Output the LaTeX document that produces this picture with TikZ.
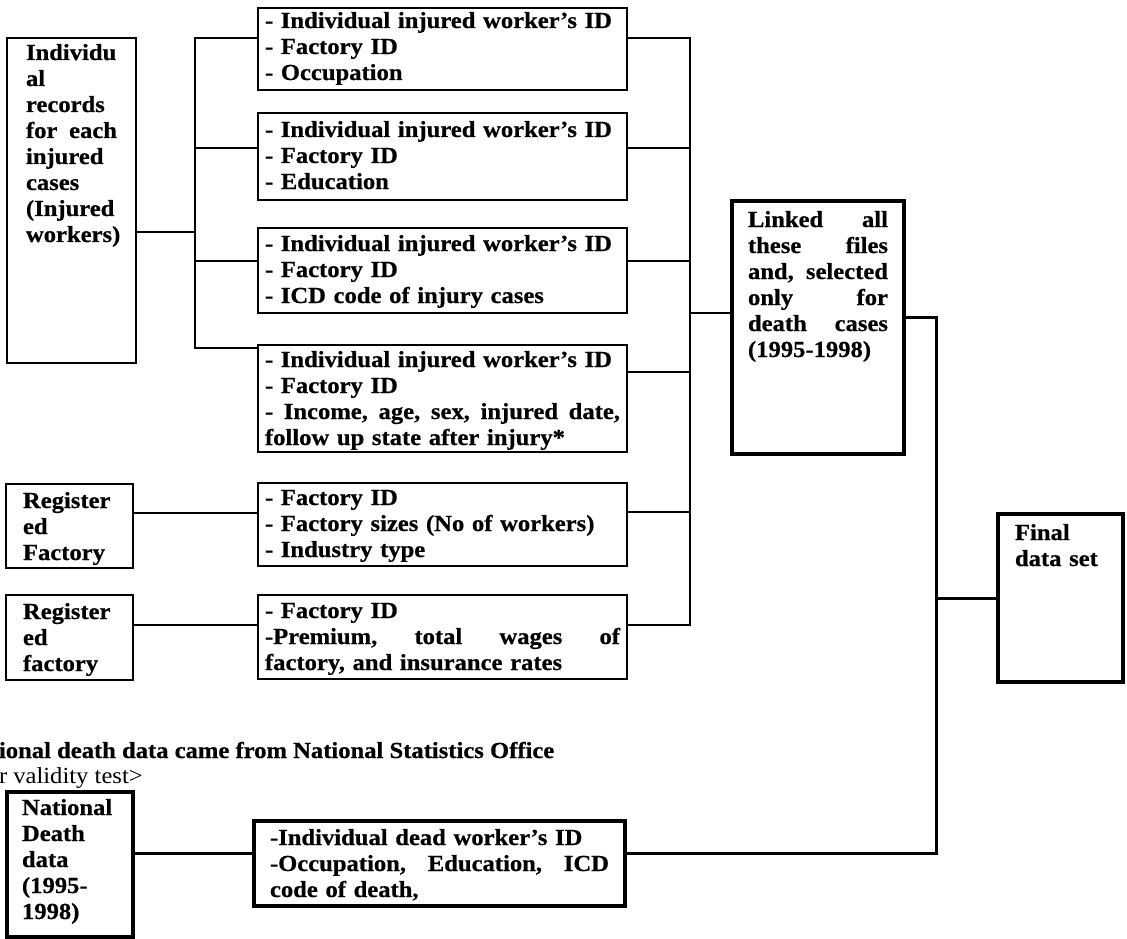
\documentclass[tikz,border=0pt]{standalone}
\usepackage{fontspec}
\setmainfont{Liberation Serif}[FakeStretch=1.07, BoldFeatures={FakeBold=0.6}]

% one line of a box, filling the full text width (words separated by \hfill)
\newcommand{\spread}[1]{\leavevmode\hbox to \hsize{#1}}

\tikzset{
  every node/.style={outer sep=0pt},
  box/.style={draw, line width=1.8pt, anchor=north west, inner ysep=0pt,
    align=left, font=\fontsize{23}{26}\selectfont\bfseries},
  heavybox/.style={box, line width=3.6pt},
  % padding, text width, first baseline below top, remaining height
  geom/.style n args={4}{inner xsep=#1pt, text width=#2pt,
    text height=#3pt, text depth=#4pt},
  link/.style={line width=1.5pt},
  heavylink/.style={line width=3pt},
  note/.style={anchor=base west, inner sep=0pt, font=\fontsize{23}{26}\selectfont},
}

\begin{document}
\begin{tikzpicture}[x=1pt, y=-1pt]
\useasboundingbox (0,0) rectangle (1127,939);

% ---- source of injured workers
\node[box, geom={19}{91}{22}{303}] (L) at (7,38)
  {Individu\\al\\records\\\spread{for\hfill each}\\injured\\cases\\(Injured\\workers)};

% ---- extracted files
\node[box, geom={7}{355}{20}{62}] (M1) at (258,8)
  {- Individual injured worker’s ID\\- Factory ID\\- Occupation};
\node[box, geom={7}{355}{24}{63}] (M2) at (258,113)
  {- Individual injured worker’s ID\\- Factory ID\\- Education};
\node[box, geom={7}{355}{23}{62}] (M3) at (258,228)
  {- Individual injured worker’s ID\\- Factory ID\\- ICD code of injury cases};
\node[box, geom={7}{355}{22}{85}] (M4) at (258,345)
  {- Individual injured worker’s ID\\- Factory ID\\
   \spread{-\hfill Income,\hfill age,\hfill sex,\hfill injured\hfill date,}\\
   follow up state after injury*};
\node[box, geom={7}{355}{22}{61}] (M5) at (258,483)
  {- Factory ID\\- Factory sizes (No of workers)\\- Industry type};
\node[box, geom={7}{355}{23}{61}] (M6) at (258,595)
  {- Factory ID\\\spread{-Premium,\hfill total\hfill wages\hfill of}\\
   factory, and insurance rates};

% ---- factory registers
\node[box, geom={17}{93}{24}{60}] (R1) at (6,484) {Register\\ed\\Factory};
\node[box, geom={17}{93}{24}{61}] (R2) at (6,595) {Register\\ed\\factory};

% ---- linking and result
\node[heavybox, geom={16}{140}{26}{227}] (LB) at (732,201)
  {\spread{Linked\hfill all}\\\spread{these\hfill files}\\
   \spread{and,\hfill selected}\\\spread{only\hfill for}\\
   \spread{death\hfill cases}\\(1995-1998)};
\node[heavybox, geom={17}{91}{26}{142}] (F) at (998,514) {Final\\data set};

% ---- national death data
\node[note, font=\fontsize{23}{26}\selectfont\bfseries] (n1) at (-1,758)
  {ional death data came from National Statistics Office};
\node[note] (n2) at (-1,783) {r validity test>};
\node[heavybox, geom={15}{96}{23}{122}] (N) at (7,792)
  {National\\Death\\data\\(1995-\\1998)};
\node[heavybox, geom={16}{339}{24}{61}] (D) at (254,821)
  {-Individual dead worker’s ID\\
   \spread{-Occupation,\hfill Education,\hfill ICD}\\code of death,};

% ---- junction points
\coordinate (jL) at (195,232);
\coordinate (l1) at (195,38);
\coordinate (l2) at (195,148);
\coordinate (l3) at (195,261);
\coordinate (l4) at (195,348);
\coordinate (r1) at (690,38);
\coordinate (r2) at (690,148);
\coordinate (r3) at (690,261);
\coordinate (r4) at (690,372);
\coordinate (r5) at (690,512);
\coordinate (r6) at (690,625);
\coordinate (rL) at (690,313);
\coordinate (o1) at (936,317);
\coordinate (o2) at (936,598);
\coordinate (o3) at (936,853);
\coordinate (g1) at (200,513);
\coordinate (g2) at (200,625);

% ---- left bus
\draw[link] (L.east |- jL) -- (jL);
\draw[link] (l1 -| M1.west) -- (l1) -- (l4) -- (l4 -| M4.west);
\draw[link] (l2) -- (l2 -| M2.west);
\draw[link] (l3) -- (l3 -| M3.west);

% ---- registers to their files
\draw[link] (g1 -| R1.east) -- (g1 -| M5.west);
\draw[link] (g2 -| R2.east) -- (g2 -| M6.west);

% ---- right bus
\draw[link] (r1 -| M1.east) -- (r1) -- (r6) -- (r6 -| M6.east);
\draw[link] (r2 -| M2.east) -- (r2);
\draw[link] (r3 -| M3.east) -- (r3);
\draw[link] (r4 -| M4.east) -- (r4);
\draw[link] (r5 -| M5.east) -- (r5);
\draw[link] (rL) -- (rL -| LB.west);

% ---- to the final data set
\draw[heavylink] (o1 -| LB.east) -- (o1) -- (o3) -- (o3 -| D.east);
\draw[heavylink] (o2) -- (o2 -| F.west);
\draw[heavylink] (o3 -| N.east) -- (o3 -| D.west);
\end{tikzpicture}
\end{document}
